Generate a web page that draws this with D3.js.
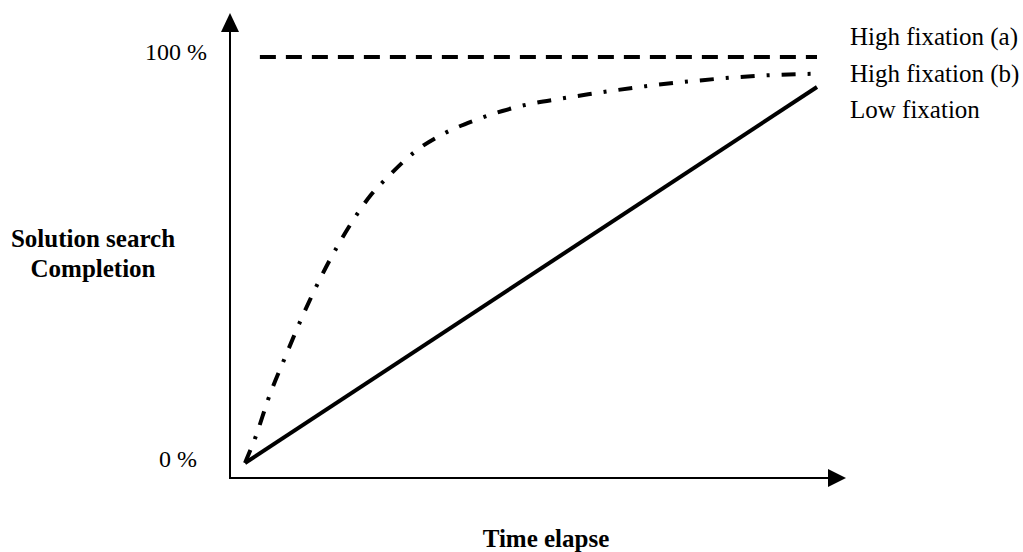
<!DOCTYPE html>
<html>
<head>
<meta charset="utf-8">
<script src="https://cdn.jsdelivr.net/npm/d3@7"></script>
<style>
  html, body { margin: 0; padding: 0; background: #fff; }
  svg { display: block; }
  text { font-family: "Liberation Serif", "Times New Roman", serif; fill: #000; }
</style>
</head>
<body>
<svg id="chart" width="1023" height="552"></svg>
<script>
// ---- data ----
const yTickLabels = ["0 %", "100 %"];
const yTickValues = [0, 100];
const seriesNames = ["High fixation (a)", "High fixation (b)", "Low fixation"];
const highAX = [2.6, 100];
const highAY = [100, 100];
const highBX = [0, 2, 4, 7, 10, 13, 16, 19, 22, 25, 30, 35, 40, 45, 50, 55, 60, 70, 80, 90, 100];
const highBY = [0, 7, 15.5, 26, 36, 45, 53, 60, 66, 70.5, 77, 81.3, 84.3, 86.7, 88.5, 89.7, 90.8, 92.8, 94.3, 95.4, 95.9];
const lowX = [0, 100];
const lowY = [0, 92.6];
const xLabel = "Time elapse";
const yLabelLines = ["Solution search", "Completion"];

// ---- layout ----
const svg = d3.select("#chart");
const originX = 230, originY = 478;
const x = d3.scaleLinear().domain([0, 100]).range([245, 817]);
const y = d3.scaleLinear().domain([0, 100]).range([463, 57]);

// axes lines with arrowheads
svg.append("line").attr("x1", originX).attr("y1", originY).attr("x2", originX).attr("y2", 30)
  .attr("stroke", "#000").attr("stroke-width", 2);
svg.append("path").attr("d", `M${originX},13 L${originX - 9},32 L${originX + 9},32 Z`).attr("fill", "#000");
svg.append("line").attr("x1", originX - 1).attr("y1", originY).attr("x2", 830).attr("y2", originY)
  .attr("stroke", "#000").attr("stroke-width", 2);
svg.append("path").attr("d", `M846,${originY} L828,${originY - 9} L828,${originY + 9} Z`).attr("fill", "#000");

// y tick labels
svg.selectAll("text.ytick").data(yTickValues).join("text")
  .attr("class", "ytick")
  .attr("x", (d, i) => i === 0 ? 197 : 207)
  .attr("y", d => y(d) + (d === 0 ? 4 : 3))
  .attr("text-anchor", "end")
  .attr("font-size", 24)
  .text((d, i) => yTickLabels[i]);

// lines
const line = d3.line().x(d => x(d[0])).y(d => y(d[1]));
const dataA = highAX.map((v, i) => [v, highAY[i]]);
const dataB = highBX.map((v, i) => [v, highBY[i]]);
const dataL = lowX.map((v, i) => [v, lowY[i]]);

svg.append("path").datum(dataA).attr("d", line)
  .attr("fill", "none").attr("stroke", "#000").attr("stroke-width", 4)
  .attr("stroke-dasharray", "16,10");
svg.append("path").datum(dataB).attr("d", d3.line().x(d => x(d[0])).y(d => y(d[1])).curve(d3.curveMonotoneX))
  .attr("fill", "none").attr("stroke", "#000").attr("stroke-width", 4)
  .attr("stroke-dasharray", "14,12,3,12");
svg.append("path").datum(dataL).attr("d", line)
  .attr("fill", "none").attr("stroke", "#000").attr("stroke-width", 4);

// series labels
const labelY = [45, 82, 118];
svg.selectAll("text.series").data(seriesNames).join("text")
  .attr("class", "series")
  .attr("x", 850)
  .attr("y", (d, i) => labelY[i])
  .attr("font-size", 25)
  .text(d => d);

// axis titles
svg.append("text").attr("x", 546).attr("y", 547).attr("text-anchor", "middle")
  .attr("font-size", 25).attr("font-weight", "bold").text(xLabel);
svg.selectAll("text.ylab").data(yLabelLines).join("text")
  .attr("class", "ylab")
  .attr("x", 93)
  .attr("y", (d, i) => 247 + i * 30)
  .attr("text-anchor", "middle")
  .attr("font-size", 25).attr("font-weight", "bold")
  .text(d => d);
</script>
</body>
</html>
